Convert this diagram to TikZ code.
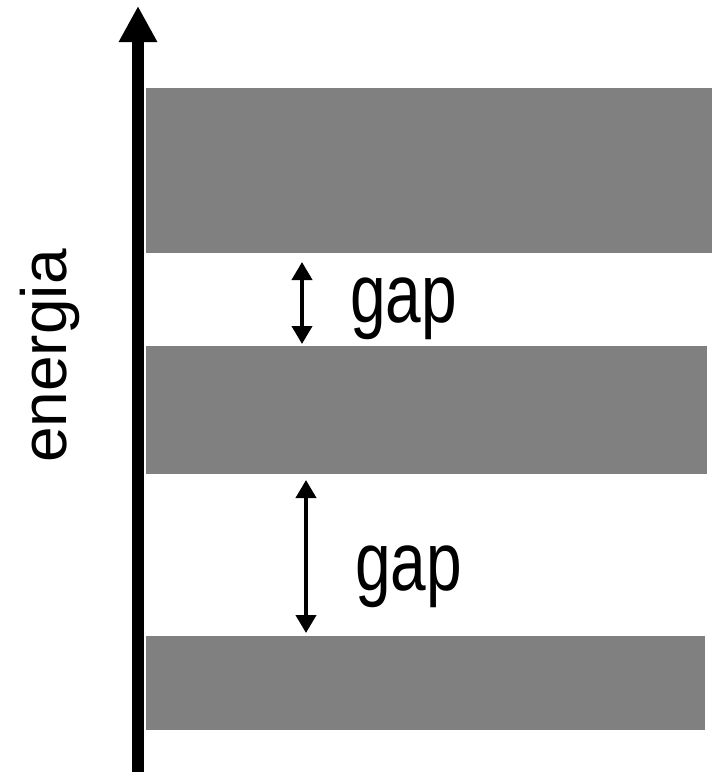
\documentclass[tikz,border=0pt]{standalone}
\usepackage{fontspec}
\setmainfont{Liberation Sans}
\usetikzlibrary{arrows.meta}
\definecolor{bandgray}{RGB}{128,128,128}
\tikzset{
  band/.style={fill=bandgray, draw=none},
  gaparrow/.style={line width=4pt, {Triangle[width=20pt,length=18pt]}-{Triangle[width=20pt,length=18pt]}},
  gaplabel/.style={inner sep=0pt, anchor=base west, font=\fontsize{64}{64}\selectfont, yscale=1.3, transform shape}
}
\begin{document}
\begin{tikzpicture}[x=1pt,y=-1pt]
\useasboundingbox (0,0) rectangle (713,772);
% bands
\foreach \ya/\yb/\xr in {88/253/712, 346/474/707, 636/730/705}
  \fill[band] (146,\ya) rectangle (\xr,\yb);
% energy axis
\coordinate (axisbot) at (138,772);
\coordinate (axistop) at (138,6);
\draw[line width=12pt, -{Triangle[width=36pt,length=36pt]}] (axisbot) -- (axistop);
\node (energia) at (50,356) [rotate=90, font=\fontsize{64}{64}\selectfont] {energia};
% gaps
\coordinate (g1top) at (302,262);
\coordinate (g1bot) at (302,344);
\draw[gaparrow] (g1top) -- (g1bot);
\node (gap1) at (350,322) [gaplabel] {gap};
\coordinate (g2top) at (306,480);
\coordinate (g2bot) at (306,633);
\draw[gaparrow] (g2top) -- (g2bot);
\node (gap2) at (355,590) [gaplabel] {gap};
\end{tikzpicture}
\end{document}
